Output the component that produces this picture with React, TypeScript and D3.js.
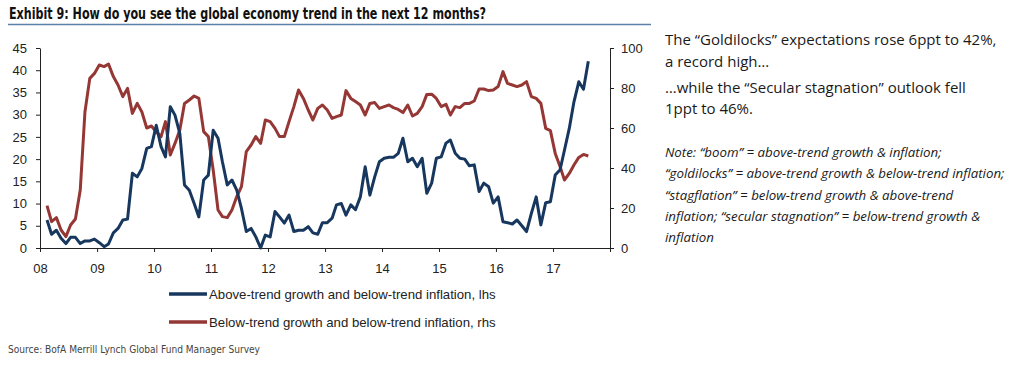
import * as d3 from 'd3';
import { useEffect, useRef } from 'react';

// monthly survey, first reading Feb 2008
const startYear = 2008;
const startMonth = 1;

// "goldilocks": above-trend growth & below-trend inflation (lhs, %)
const goldilocks = [
  6.3, 3.1, 4.0, 2.2, 1.0, 2.4, 2.4, 1.0, 1.6, 1.6, 2.0,
  1.2, 0.3, 0.9, 3.4, 4.4, 6.3, 6.5, 16.8, 16.0, 17.9, 22.4, 22.8,
  27.6, 22.8, 20.5, 31.8, 29.9, 25.8, 14.2, 13.0, 10.0, 7.0, 15.3, 16.4,
  26.5, 24.7, 19.4, 14.2, 15.3, 13.0, 8.9, 3.7, 4.4, 2.5, 0.0, 2.9,
  2.5, 8.2, 7.0, 5.6, 7.4, 3.7, 4.0, 4.0, 4.8, 3.4, 3.1, 5.7,
  5.7, 6.7, 9.7, 10.0, 7.4, 9.7, 8.6, 11.5, 18.3, 11.9, 16.0, 19.4,
  20.2, 20.4, 20.4, 21.3, 24.7, 19.4, 20.2, 18.3, 20.2, 12.3, 14.6, 20.2,
  20.5, 23.6, 24.3, 21.3, 20.2, 20.0, 18.5, 18.7, 12.7, 14.6, 13.8, 10.1,
  11.5, 5.9, 5.7, 5.4, 6.3, 5.0, 3.7, 7.8, 11.5, 5.2, 10.2, 10.4,
  16.4, 17.6, 22.0, 26.9, 32.9, 37.4, 35.7, 42.0,
];

// "secular stagnation": below-trend growth & below-trend inflation (rhs, %)
const secularStagnation = [
  21.2, 13.2, 15.2, 9.0, 5.7, 11.5, 14.5, 29.0, 68.0, 84.8, 87.3,
  91.5, 90.7, 92.0, 85.7, 81.5, 75.7, 79.8, 67.3, 72.3, 68.0, 60.0, 61.0,
  58.0, 55.7, 63.2, 46.5, 52.3, 59.0, 72.3, 74.0, 76.0, 74.8, 58.2, 55.7,
  39.0, 19.0, 15.7, 15.2, 19.0, 25.7, 30.7, 48.2, 51.5, 55.7, 52.3, 64.0,
  63.2, 59.8, 55.7, 55.7, 63.2, 70.7, 79.0, 74.8, 69.0, 64.0, 69.8, 71.5,
  69.0, 64.8, 65.7, 66.5, 78.7, 74.8, 73.2, 71.5, 66.5, 72.3, 72.7, 69.8,
  70.7, 71.5, 70.2, 69.3, 67.7, 71.5, 66.0, 67.3, 70.7, 76.8, 76.9, 74.8,
  70.7, 71.8, 66.5, 70.7, 70.2, 72.3, 72.3, 73.5, 79.5, 79.5, 78.7, 79.0,
  80.7, 88.2, 82.3, 81.5, 80.7, 81.5, 83.2, 75.7, 74.8, 72.3, 59.8, 58.7,
  47.3, 40.7, 34.0, 37.3, 41.5, 45.3, 46.8, 46.0,
];

const leftTicks = [0, 5, 10, 15, 20, 25, 30, 35, 40, 45];
const rightTicks = [0, 20, 40, 60, 80, 100];
const yearLabels = ['08', '09', '10', '11', '12', '13', '14', '15', '16', '17', ''];

const legendLabels = [
  'Above-trend growth and below-trend inflation, lhs',
  'Below-trend growth and below-trend inflation, rhs',
];

const commentLines = [
  'The \u201cGoldilocks\u201d expectations rose 6ppt to 42%,',
  'a record high\u2026',
  '\u2026while the \u201cSecular stagnation\u201d outlook fell',
  '1ppt to 46%.',
];

const noteLines = [
  'Note: \u201cboom\u201d = above-trend growth & inflation;',
  '\u201cgoldilocks\u201d = above-trend growth & below-trend inflation;',
  '\u201cstagflation\u201d = below-trend growth & above-trend',
  'inflation; \u201csecular stagnation\u201d = below-trend growth &',
  'inflation',
];

const BLUE = '#17375e';
const RED = '#953735';
const ARIAL = "'Liberation Sans', Arial, sans-serif";
const NARROW = "'Liberation Sans Narrow', 'DejaVu Sans Condensed', sans-serif";

function Chart() {
  const svgRef = useRef<SVGSVGElement>(null);

  useEffect(() => {
    const svg = d3.select(svgRef.current);
    svg.selectAll('*').remove();

    const left = 40, right = 610, top = 48, bottom = 248;

    const x = d3.scaleTime()
      .domain([new Date(2008, 0, 1), new Date(2018, 0, 1)])
      .range([left, right]);
    const yL = d3.scaleLinear().domain([0, 45]).range([bottom, top]);
    const yR = d3.scaleLinear().domain([0, 100]).range([bottom, top]);

    const dateOf = (i: number) => new Date(startYear, startMonth + i, 15);

    // title + rule
    svg.append('text')
      .attr('x', 9).attr('y', 19)
      .attr('textLength', 477).attr('lengthAdjust', 'spacingAndGlyphs')
      .style('font', `bold 15px ${NARROW}`)
      .attr('fill', '#111')
      .text('Exhibit 9: How do you see the global economy trend in the next 12 months?');
    svg.append('line')
      .attr('x1', 8).attr('x2', 651).attr('y1', 24.5).attr('y2', 24.5)
      .attr('stroke', '#5b7fa6').attr('stroke-width', 1.5);

    // axes
    const styleAxis = (g: any) => {
      g.selectAll('path, line').attr('stroke', '#222');
      g.selectAll('text').style('font', `13px ${ARIAL}`).attr('fill', '#222');
    };
    svg.append('g')
      .attr('transform', `translate(${left},0)`)
      .call(d3.axisLeft(yL).tickValues(leftTicks).tickSize(4).tickSizeOuter(0).tickPadding(9))
      .call(styleAxis);
    svg.append('g')
      .attr('transform', `translate(${right},0)`)
      .call(d3.axisRight(yR).tickValues(rightTicks).tickSize(4).tickSizeOuter(0).tickPadding(7))
      .call(styleAxis);
    const years = yearLabels.map((_, i) => new Date(2008 + i, 0, 1));
    svg.append('g')
      .attr('transform', `translate(0,${bottom})`)
      .call(d3.axisBottom(x).tickValues(years).tickSize(4).tickSizeOuter(0).tickPadding(12)
        .tickFormat((_d: any, i: number) => yearLabels[i]))
      .call(styleAxis);

    // series
    const lineL = d3.line<number>().x((_, i) => x(dateOf(i))).y(d => yL(d));
    const lineR = d3.line<number>().x((_, i) => x(dateOf(i))).y(d => yR(d));
    svg.append('path').datum(secularStagnation)
      .attr('d', lineR).attr('fill', 'none').attr('stroke', RED)
      .attr('stroke-width', 3).attr('stroke-linejoin', 'round');
    svg.append('path').datum(goldilocks)
      .attr('d', lineL).attr('fill', 'none').attr('stroke', BLUE)
      .attr('stroke-width', 3).attr('stroke-linejoin', 'round');

    // legend
    const legend = svg.append('g');
    [BLUE, RED].forEach((c, i) => {
      const ly = 294 + i * 28;
      legend.append('line')
        .attr('x1', 169).attr('x2', 207).attr('y1', ly).attr('y2', ly)
        .attr('stroke', c).attr('stroke-width', 3.5);
      legend.append('text')
        .attr('x', 209).attr('y', ly).attr('dy', '0.36em')
        .style('font', `13.2px ${ARIAL}`).attr('fill', '#222')
        .text(legendLabels[i]);
    });

    // source
    svg.append('text')
      .attr('x', 8).attr('y', 353)
      .attr('textLength', 252).attr('lengthAdjust', 'spacingAndGlyphs')
      .style('font', `11px ${NARROW}`)
      .attr('fill', '#444')
      .text('Source: BofA Merrill Lynch Global Fund Manager Survey');

    // commentary on the right
    const cy = [45, 67, 93, 114];
    commentLines.forEach((t, i) => {
      svg.append('text')
        .attr('x', 665).attr('y', cy[i])
        .style('font', "15px 'Open Sans', sans-serif")
        .attr('fill', '#1a1a1a')
        .text(t);
    });
    noteLines.forEach((t, i) => {
      svg.append('text')
        .attr('x', 665).attr('y', 157 + i * 21.3)
        .style('font', "italic 13.3px 'Open Sans', sans-serif")
        .attr('fill', '#1a1a1a')
        .text(t);
    });
  });

  return (
    <svg ref={svgRef} width={1024} height={368}
      style={{ position: 'absolute', left: 0, top: 0, background: '#fff' }} />
  );
}

export default function App() {
  return <Chart />;
}
